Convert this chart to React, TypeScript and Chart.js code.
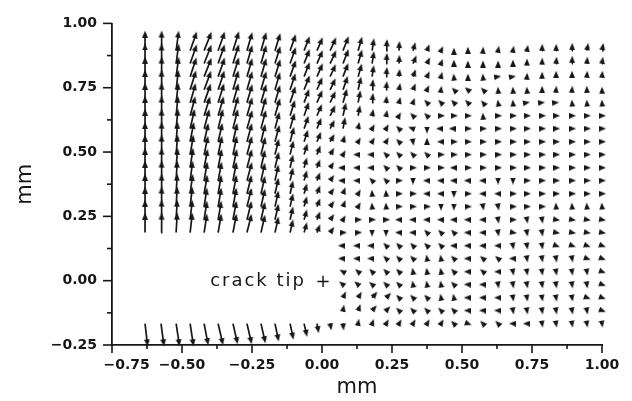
import React, { useEffect, useRef } from 'react';
import { Chart, registerables } from 'chart.js';

Chart.register(...registerables);

// grid columns (mm) and rows (mm) of the measured displacement field
const COL_X = [-0.632, -0.575, -0.521, -0.471, -0.421, -0.371, -0.318, -0.268, -0.218, -0.168, -0.114, -0.064, -0.018, 0.029, 0.075, 0.129, 0.179, 0.229, 0.275, 0.325, 0.375, 0.425, 0.471, 0.521, 0.575, 0.629, 0.682, 0.732, 0.786, 0.836, 0.893, 0.946, 1.0];
const ROW_Y = [0.894, 0.844, 0.793, 0.742, 0.692, 0.641, 0.591, 0.54, 0.49, 0.439, 0.389, 0.338, 0.288, 0.237, 0.187, 0.136, 0.086, 0.035, -0.015, -0.066, -0.116, -0.167];

const N = null;
// vector direction (degrees, counter-clockwise from +x), one row per ROW_Y
const ANGLE = [
  [90, 88, 83, 72, 70, 72, 74, 75, 75, 74, 72, 70, 68, 67, 70, 75, 82, 85, 87, 75, 70, 65, 90, 90, 85, 80, 80, 80, 88, 88, 88, 80, 80],
  [90, 88, 83, 72, 70, 72, 74, 75, 75, 74, 72, 70, 68, 67, 70, 75, 82, 85, 87, 68, 65, 70, 90, 90, 90, 90, 90, 88, 88, 85, 88, 85, 82],
  [90, 88, 83, 73, 70, 72, 74, 75, 75, 74, 72, 70, 68, 67, 70, 75, 82, 85, 85, 70, 65, 75, 95, 90, 95, 10, 10, 85, 88, 90, 90, 85, 85],
  [90, 88, 84, 74, 71, 73, 75, 75, 75, 75, 73, 70, 68, 66, 72, 78, 85, 85, 80, 68, 65, 80, 135, 140, 135, 95, 95, 95, 90, 85, 85, 92, 92],
  [90, 88, 84, 75, 72, 74, 75, 75, 75, 75, 73, 71, 68, 66, 75, 80, 85, 85, 75, 70, 135, 135, 135, 135, 130, 100, 95, 10, 5, 5, 95, 95, 95],
  [90, 88, 85, 76, 74, 75, 76, 75, 76, 75, 74, 72, 68, 65, 78, 80, 80, 80, 60, 135, 135, 0, 0, 0, 95, 0, 0, 0, 0, 0, 0, 0, 0],
  [90, 88, 85, 78, 76, 77, 77, 75, 76, 76, 75, 72, 69, 64, 80, 80, 60, 60, 135, 160, -90, 180, 180, 0, 0, 0, 0, 0, 0, 0, 0, 0, 0],
  [90, 88, 86, 80, 78, 78, 78, 76, 77, 76, 76, 73, 69, 62, 75, 60, 60, 60, 135, -80, 90, 180, 0, 0, 0, 0, 0, 0, 0, 0, 0, 0, 0],
  [90, 88, 86, 81, 79, 79, 79, 76, 77, 77, 77, 74, 70, 60, 60, 180, 180, 135, 135, 135, 135, 0, 0, 0, 0, 0, 0, 0, 0, 0, 0, 0, 0],
  [90, 88, 86, 82, 80, 80, 79, 76, 78, 77, 78, 75, 70, 57, 180, 180, 180, 135, 135, 0, 0, 0, 180, 0, 0, 0, 0, 0, 0, 0, 0, 0, 0],
  [90, 88, 87, 83, 81, 80, 80, 76, 78, 78, 78, 75, 70, 55, 180, 180, 135, 135, 0, -90, 180, 180, 180, 180, 180, -90, -90, 0, 0, 0, 0, 0, 0],
  [90, 88, 87, 83, 81, 81, 80, 77, 78, 78, 78, 75, 70, 55, 70, 60, 95, 95, 0, 0, 180, 180, -90, 0, 180, 180, 0, 0, 0, 0, 0, 0, 0],
  [90, 88, 87, 84, 82, 81, 80, 77, 78, 78, 78, 75, 70, 55, 70, 60, 95, 95, 0, 0, 0, -90, -90, 0, -80, -80, 0, 0, 0, 95, 95, 95, 95],
  [90, 88, 87, 84, 82, 81, 80, 77, 78, 78, 78, 75, 70, 55, 60, 0, 0, 0, 180, 180, 180, 180, 180, 180, 180, -80, 0, -80, -80, -10, -10, -10, -10],
  [90, 88, 87, 84, 82, 81, 80, 77, 78, 78, 78, 75, 70, 55, 0, 0, -90, -90, 180, 180, 135, 135, 135, 180, 180, -80, -10, -80, -80, -10, -10, -10, -10],
  [N, N, N, N, N, N, N, N, N, N, N, N, N, N, 180, 180, 180, 135, 135, 135, 135, 135, 180, 180, 180, 180, -80, -80, -80, -20, -20, -20, -20],
  [N, N, N, N, N, N, N, N, N, N, N, N, N, N, 180, 180, 180, 135, 135, 135, 100, 100, 135, 180, 140, 140, 180, -80, -80, -80, -80, -20, -20],
  [N, N, N, N, N, N, N, N, N, N, N, N, N, N, 150, 140, 135, 135, 135, 100, 100, 100, 135, 180, 140, 180, -80, -80, -80, -80, -80, -80, -20],
  [N, N, N, N, N, N, N, N, N, N, N, N, N, N, 140, 140, 140, 135, 135, 100, 100, 100, 135, 180, 180, -80, -80, -80, -80, -80, -80, -80, -20],
  [N, N, N, N, N, N, N, N, N, N, N, N, N, N, 65, 60, 50, 45, 135, 135, 135, 100, 100, 180, 180, 180, -80, -80, -80, -80, -80, -20, -20],
  [N, N, N, N, N, N, N, N, N, N, N, N, N, N, 80, 70, 50, 45, 135, 135, 135, 135, 135, 180, 180, 180, -80, -80, -80, -80, -80, -80, -20],
  [-84, -83, -82, -82, -80, -78, -78, -78, -78, -79, -79, -78, -80, -80, -85, 80, 70, 60, 60, 60, 60, 60, 135, -20, 135, 135, 180, 180, -80, -80, -80, -80, -80],
];
// vector magnitude (display units), one row per ROW_Y
const LENGTH = [
  [21, 21, 21, 21, 21, 21, 21, 20, 20, 19, 18, 16, 15, 15, 16, 15, 13, 12, 10, 9, 7, 5, 3, 4, 4, 5, 5, 6, 7, 7, 8, 8, 8],
  [21, 21, 21, 21, 21, 21, 21, 20, 20, 19, 18, 16, 15, 15, 16, 15, 13, 11, 9, 9, 7, 5, 4, 3, 3, 3, 4, 5, 6, 7, 8, 7, 7],
  [21, 21, 21, 21, 21, 21, 21, 20, 20, 19, 18, 16, 15, 14, 15, 14, 12, 10, 8, 8, 6, 5, 3, 3, 3, 3, 3, 4, 5, 6, 6, 6, 6],
  [21, 21, 21, 21, 21, 21, 21, 20, 20, 19, 18, 16, 14, 13, 15, 14, 11, 9, 7, 7, 5, 4, 3, 4, 3, 3, 3, 3, 4, 4, 4, 4, 3],
  [21, 21, 21, 21, 21, 21, 21, 20, 20, 19, 18, 15, 14, 13, 15, 13, 10, 7, 6, 5, 4, 4, 4, 4, 3, 3, 3, 3, 3, 3, 3, 3, 3],
  [21, 21, 21, 21, 21, 21, 21, 20, 20, 19, 17, 15, 13, 12, 14, 11, 7, 6, 4, 4, 4, 4, 4, 4, 3, 4, 4, 4, 4, 4, 4, 4, 4],
  [21, 21, 21, 21, 21, 21, 21, 20, 20, 18, 17, 14, 12, 10, 12, 7, 5, 5, 4, 5, 5, 5, 5, 4, 4, 4, 4, 4, 4, 4, 4, 4, 4],
  [21, 21, 21, 21, 20, 20, 20, 20, 19, 18, 16, 13, 11, 9, 7, 5, 5, 5, 4, 4, 4, 4, 4, 4, 4, 4, 4, 4, 4, 4, 4, 4, 4],
  [21, 21, 21, 21, 20, 20, 20, 20, 19, 17, 15, 12, 10, 8, 5, 5, 5, 4, 4, 4, 4, 4, 4, 4, 4, 4, 4, 4, 4, 4, 4, 4, 4],
  [21, 21, 21, 21, 20, 20, 20, 20, 19, 17, 14, 11, 9, 7, 5, 5, 5, 4, 4, 4, 4, 4, 4, 4, 4, 4, 4, 4, 4, 4, 4, 4, 4],
  [21, 21, 21, 21, 20, 20, 20, 20, 19, 17, 14, 11, 9, 7, 5, 5, 4, 4, 4, 4, 4, 4, 4, 4, 4, 4, 4, 4, 4, 4, 4, 4, 4],
  [21, 21, 21, 21, 20, 20, 20, 20, 19, 17, 14, 11, 9, 7, 7, 5, 4, 4, 4, 4, 4, 4, 4, 4, 4, 4, 4, 4, 4, 4, 4, 4, 4],
  [21, 21, 21, 21, 20, 20, 20, 20, 19, 17, 14, 11, 9, 7, 7, 5, 4, 4, 4, 4, 4, 4, 4, 4, 4, 4, 4, 4, 4, 4, 4, 4, 4],
  [21, 21, 21, 21, 20, 20, 20, 20, 19, 17, 14, 11, 9, 7, 5, 4, 4, 4, 4, 4, 4, 4, 4, 4, 4, 4, 4, 4, 4, 4, 4, 4, 4],
  [21, 21, 21, 21, 20, 20, 20, 20, 19, 17, 14, 11, 9, 7, 4, 4, 4, 4, 4, 4, 4, 4, 4, 4, 4, 4, 4, 4, 4, 4, 4, 4, 4],
  [N, N, N, N, N, N, N, N, N, N, N, N, N, N, 5, 5, 5, 4, 4, 4, 4, 4, 4, 4, 4, 4, 4, 4, 4, 4, 4, 4, 4],
  [N, N, N, N, N, N, N, N, N, N, N, N, N, N, 5, 5, 5, 4, 4, 4, 4, 4, 4, 4, 4, 4, 4, 4, 4, 4, 4, 4, 4],
  [N, N, N, N, N, N, N, N, N, N, N, N, N, N, 4, 4, 4, 4, 4, 4, 4, 4, 4, 4, 4, 4, 4, 4, 4, 4, 4, 4, 4],
  [N, N, N, N, N, N, N, N, N, N, N, N, N, N, 5, 5, 4, 4, 4, 4, 4, 4, 4, 4, 4, 4, 4, 4, 4, 4, 4, 4, 4],
  [N, N, N, N, N, N, N, N, N, N, N, N, N, N, 7, 7, 8, 7, 4, 4, 4, 4, 4, 4, 4, 4, 4, 4, 4, 4, 4, 4, 4],
  [N, N, N, N, N, N, N, N, N, N, N, N, N, N, 6, 7, 7, 6, 4, 4, 4, 4, 4, 4, 4, 4, 4, 4, 4, 4, 4, 4, 4],
  [24, 24, 24, 24, 23, 23, 22, 22, 21, 19, 17, 14, 10, 7, 7, 5, 5, 5, 5, 5, 5, 5, 4, 4, 4, 4, 4, 4, 4, 4, 4, 4, 4],
];

const CRACK_TIP = { x: 0.0, y: 0.0 };
const CRACK_LABEL = 'crack tip';
const X_RANGE = [-0.75, 1.0];
const Y_RANGE = [-0.25, 1.0];
const TICK_STEP = 0.25;
const AXIS_TITLE = 'mm';

const VECTOR_SCALE = 1 / 272; // mm of plot per display unit
const HEAD_BACK = 3.5; // head centre sits this far behind the tip
const INK = '#161616';

function makeHead() {
  const c = document.createElement('canvas');
  c.width = 6;
  c.height = 7;
  const g = c.getContext('2d')!;
  g.fillStyle = INK;
  g.beginPath();
  g.moveTo(3, 0);
  g.lineTo(5.9, 7);
  g.lineTo(0.1, 7);
  g.closePath();
  g.fill();
  return c;
}

function fmt(v: number) {
  const s = Math.abs(v).toFixed(2);
  return v < -1e-9 ? '\u2212' + s : s;
}

const axisExtras = {
  id: 'axisExtras',
  afterDraw(chart: any) {
    const { ctx, scales } = chart;
    const x = scales.x;
    const y = scales.y;
    ctx.save();
    ctx.strokeStyle = INK;
    ctx.lineWidth = 1.6;
    const seg = (a: number, b: number, c: number, d: number) => {
      ctx.beginPath();
      ctx.moveTo(a, b);
      ctx.lineTo(c, d);
      ctx.stroke();
    };
    const xv = x.ticks.map((t: any) => t.value);
    xv.forEach((v: number, i: number) => {
      const p = x.getPixelForValue(v);
      seg(p, x.top, p, x.top + 8);
      if (i < xv.length - 1) {
        const m = x.getPixelForValue((v + xv[i + 1]) / 2);
        seg(m, x.top, m, x.top + 4);
      }
    });
    const yv = y.ticks.map((t: any) => t.value);
    yv.forEach((v: number, i: number) => {
      const p = y.getPixelForValue(v);
      seg(y.right, p, y.right - 9, p);
      if (i < yv.length - 1) {
        const m = y.getPixelForValue((v + yv[i + 1]) / 2);
        seg(y.right, m, y.right - 5, m);
      }
    });
    // crack tip marker and label
    const tx = x.getPixelForValue(CRACK_TIP.x);
    const ty = y.getPixelForValue(CRACK_TIP.y);
    ctx.fillStyle = INK;
    ctx.font = '500 18px "DejaVu Sans"';
    ctx.textBaseline = 'alphabetic';
    ctx.textAlign = 'right';
    (ctx as any).letterSpacing = '2px';
    ctx.fillText(CRACK_LABEL, tx - 16, ty + 5);
    (ctx as any).letterSpacing = '0px';
    ctx.textAlign = 'center';
    ctx.fillText('+', tx + 1, ty + 6.5);
    ctx.restore();
  },
};

export default function App() {
  const ref = useRef<HTMLCanvasElement>(null);

  useEffect(() => {
    const shafts: any[] = [];
    const heads: any[] = [];
    ROW_Y.forEach((yy, r) => {
      COL_X.forEach((xx, c) => {
        const a = ANGLE[r][c];
        const m = LENGTH[r][c];
        if (a == null || m == null) return;
        const rad = (a * Math.PI) / 180;
        const hx = xx + Math.cos(rad) * (m - HEAD_BACK) * VECTOR_SCALE;
        const hy = yy + Math.sin(rad) * (m - HEAD_BACK) * VECTOR_SCALE;
        shafts.push({ x: xx, y: yy }, { x: hx, y: hy }, { x: hx, y: null });
        heads.push({ x: hx, y: hy, rot: 90 - a });
      });
    });

    const head = makeHead();
    const tickFont = { family: '"DejaVu Sans"', size: 14, weight: 'bold' as const };
    const titleFont = { family: '"DejaVu Sans"', size: 21 };

    const chart = new Chart(ref.current!, {
      type: 'scatter',
      data: {
        datasets: [
          {
            data: heads,
            pointStyle: head as any,
            pointRadius: 3,
            pointBorderWidth: 0,
            borderColor: INK,
            backgroundColor: INK,
            rotation: (ctx: any) => (ctx.raw ? ctx.raw.rot : 0),
            clip: false as any,
          } as any,
          {
            data: shafts,
            showLine: true,
            spanGaps: false,
            borderColor: INK,
            borderWidth: 1.7,
            pointRadius: 0,
            clip: false as any,
          } as any,
        ],
      },
      options: {
        responsive: false,
        animation: false,
        events: [],
        layout: { padding: { left: 0, right: 30, top: 15, bottom: 0 } },
        plugins: { legend: { display: false }, tooltip: { enabled: false } },
        scales: {
          x: {
            type: 'linear',
            min: X_RANGE[0],
            max: X_RANGE[1],
            afterFit: (s: any) => {
              s.height = 56;
            },
            grid: { display: false, drawTicks: false },
            border: { display: true, color: INK, width: 1.8 },
            ticks: {
              stepSize: TICK_STEP,
              autoSkip: false,
              maxRotation: 0,
              padding: 12,
              color: INK,
              font: tickFont,
              callback: (v: any) => (Math.abs(v - X_RANGE[0]) < 1e-9 ? '\u2007\u2007\u2007' + fmt(v) : fmt(v)),
            },
            title: { display: true, text: AXIS_TITLE, color: INK, font: titleFont, padding: { top: 0, bottom: 1 } },
          },
          y: {
            type: 'linear',
            min: Y_RANGE[0],
            max: Y_RANGE[1],
            afterFit: (s: any) => {
              s.width = 112;
            },
            grid: { display: false, drawTicks: false },
            border: { display: true, color: INK, width: 1.8 },
            ticks: {
              stepSize: TICK_STEP,
              autoSkip: false,
              padding: 15,
              color: INK,
              font: tickFont,
              callback: (v: any) => fmt(v),
            },
            title: { display: true, text: AXIS_TITLE, color: INK, font: titleFont, padding: { top: 13, bottom: 0 } },
          },
        },
      } as any,
      plugins: [axisExtras],
    });
    return () => chart.destroy();
  }, []);

  return (
    <div style={{ position: 'fixed', left: 0, top: 0, width: 632, height: 401, background: '#fff' }}>
      <canvas ref={ref} width={632} height={401} style={{ display: 'block' }} />
    </div>
  );
}
